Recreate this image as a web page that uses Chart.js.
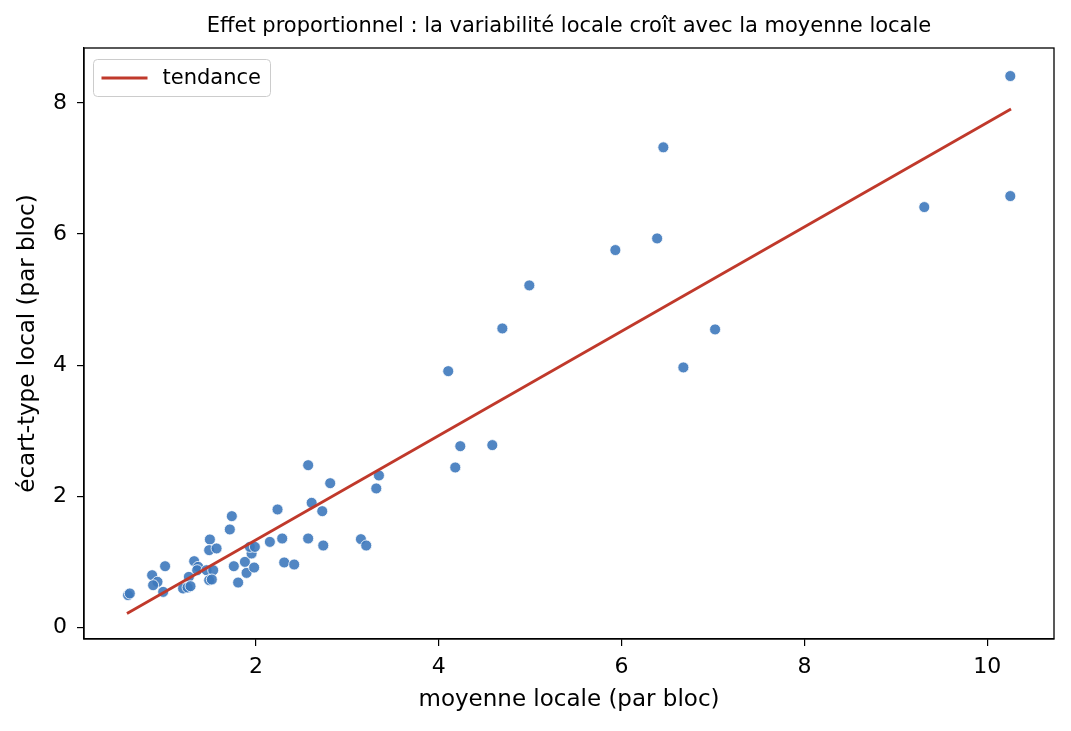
<!DOCTYPE html>
<html>
<head>
<meta charset="utf-8">
<script src="https://cdn.jsdelivr.net/npm/chart.js@4.4.1/dist/chart.umd.min.js"></script>
<style>
  html, body { margin: 0; padding: 0; background: #ffffff; }
  #wrap { width: 1071px; height: 731px; position: relative; }
</style>
</head>
<body>
<div id="wrap"><canvas id="c" width="1071" height="731"></canvas></div>
<script>
// ---- data ----
const meanVals = [
  0.602, 0.621, 0.865, 0.924, 0.876, 0.986, 1.007, 1.325, 1.369, 1.358,
  1.267, 1.204, 1.253, 1.285, 1.497, 1.489, 1.570, 1.460, 1.533, 1.489,
  1.518, 1.737, 1.715, 1.759, 1.806, 1.898, 1.880, 1.981, 1.953, 1.934,
  1.989, 2.153, 2.237, 2.288, 2.310, 2.419, 2.572, 2.610, 2.726, 2.572,
  2.737, 2.813, 3.149, 3.207, 3.317, 3.346, 4.104, 4.236, 4.181, 4.586,
  4.696, 4.991, 5.932, 6.389, 6.457, 6.676, 7.023, 9.311, 10.252, 10.252
];
const stdVals = [
  0.489, 0.515, 0.794, 0.692, 0.641, 0.539, 0.931, 1.008, 0.921, 0.870,
  0.768, 0.591, 0.606, 0.626, 1.339, 1.176, 1.202, 0.870, 0.870, 0.718,
  0.728, 1.695, 1.492, 0.931, 0.682, 0.829, 0.997, 0.911, 1.125, 1.226,
  1.226, 1.302, 1.797, 1.354, 0.988, 0.957, 2.473, 1.898, 1.771, 1.354,
  1.247, 2.198, 1.344, 1.247, 2.118, 2.316, 3.908, 2.763, 2.438, 2.779,
  4.560, 5.217, 5.756, 5.934, 7.324, 3.965, 4.545, 6.412, 8.412, 6.580
];
const trendX = [0.59, 10.26];
const trendY = [0.21, 7.91];
const xTicks = [2, 4, 6, 8, 10];
const yTicks = [0, 2, 4, 6, 8];

const titleText = "Effet proportionnel : la variabilité locale croît avec la moyenne locale";
const xLabel = "moyenne locale (par bloc)";
const yLabel = "écart-type local (par bloc)";
const legendLabel = "tendance";

const FONT = "'DejaVu Sans', sans-serif";
const trendColor = '#c0392b';

const scatterPts = meanVals.map((x, i) => ({ x: x, y: stdVals[i] }));
const trendPts = trendX.map((x, i) => ({ x: x, y: trendY[i] }));

const decorPlugin = {
  id: 'decor',
  afterDraw(chart) {
    const ctx = chart.ctx;
    const a = chart.chartArea;
    ctx.save();
    // frame (top & right edges)
    ctx.strokeStyle = '#000';
    ctx.lineWidth = 1.3;
    ctx.strokeRect(a.left, a.top, a.right - a.left, a.bottom - a.top);
    // title
    ctx.fillStyle = '#000';
    ctx.font = '21px ' + FONT;
    ctx.textAlign = 'center';
    ctx.textBaseline = 'middle';
    ctx.fillText(titleText, (a.left + a.right) / 2, 27);
    // legend box
    const bx = a.left + 9.5, by = a.top + 11.5, bw = 177, bh = 37, r = 4;
    ctx.beginPath();
    ctx.moveTo(bx + r, by);
    ctx.lineTo(bx + bw - r, by);
    ctx.quadraticCurveTo(bx + bw, by, bx + bw, by + r);
    ctx.lineTo(bx + bw, by + bh - r);
    ctx.quadraticCurveTo(bx + bw, by + bh, bx + bw - r, by + bh);
    ctx.lineTo(bx + r, by + bh);
    ctx.quadraticCurveTo(bx, by + bh, bx, by + bh - r);
    ctx.lineTo(bx, by + r);
    ctx.quadraticCurveTo(bx, by, bx + r, by);
    ctx.closePath();
    ctx.fillStyle = 'rgba(255,255,255,0.8)';
    ctx.fill();
    ctx.strokeStyle = '#cccccc';
    ctx.lineWidth = 1;
    ctx.stroke();
    ctx.beginPath();
    ctx.moveTo(bx + 8, by + bh / 2);
    ctx.lineTo(bx + 54, by + bh / 2);
    ctx.strokeStyle = trendColor;
    ctx.lineWidth = 2.8;
    ctx.stroke();
    ctx.fillStyle = '#000';
    ctx.font = '21px ' + FONT;
    ctx.textAlign = 'left';
    ctx.textBaseline = 'middle';
    ctx.fillText(legendLabel, bx + 69, by + bh / 2 + 1);
    ctx.restore();
  }
};

new Chart(document.getElementById('c'), {
  type: 'scatter',
  data: {
    datasets: [
      {
        label: 'points',
        data: scatterPts,
        backgroundColor: 'rgba(62,121,189,0.9)',
        borderColor: '#ffffff',
        borderWidth: 0.8,
        pointRadius: 5.5,
        pointHoverRadius: 5.5,
        order: 2
      },
      {
        label: legendLabel,
        type: 'line',
        data: trendPts,
        borderColor: trendColor,
        borderWidth: 2.8,
        pointRadius: 0,
        fill: false,
        showLine: true,
        order: 1
      }
    ]
  },
  options: {
    responsive: false,
    animation: false,
    devicePixelRatio: 1,
    layout: { padding: { top: 48, right: 17, left: 0, bottom: 0 } },
    plugins: {
      legend: { display: false },
      title: { display: false },
      tooltip: { enabled: false }
    },
    scales: {
      x: {
        type: 'linear',
        min: 0.12,
        max: 10.73,
        afterFit(s) { s.height = 92; },
        afterBuildTicks(s) { s.ticks = xTicks.map(v => ({ value: v })); },
        grid: { display: true, drawOnChartArea: false, drawTicks: true, tickLength: 7, color: '#000', lineWidth: 1.2 },
        border: { display: true, color: '#000', width: 1.3 },
        ticks: { color: '#000', font: { family: FONT, size: 22 }, padding: 8, maxRotation: 0, autoSkip: false,
                 callback: (v) => String(v) },
        title: { display: true, text: xLabel, color: '#000', font: { family: FONT, size: 23 }, padding: { top: 0, bottom: 17 } }
      },
      y: {
        type: 'linear',
        min: -0.18,
        max: 8.84,
        afterFit(s) { s.width = 84; },
        afterBuildTicks(s) { s.ticks = yTicks.map(v => ({ value: v })); },
        grid: { display: true, drawOnChartArea: false, drawTicks: true, tickLength: 7, color: '#000', lineWidth: 1.2 },
        border: { display: true, color: '#000', width: 1.3 },
        ticks: { color: '#000', font: { family: FONT, size: 22 }, padding: 10, autoSkip: false,
                 callback: (v) => String(v) },
        title: { display: true, text: yLabel, color: '#000', font: { family: FONT, size: 23 }, padding: { top: 14, bottom: 0 } }
      }
    }
  },
  plugins: [decorPlugin]
});
</script>
</body>
</html>
